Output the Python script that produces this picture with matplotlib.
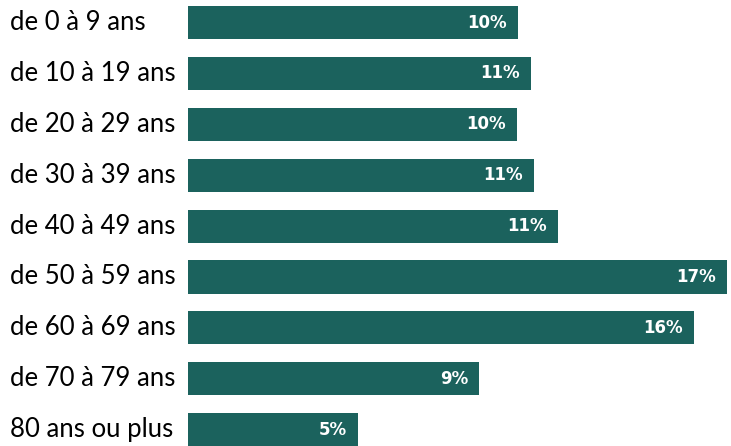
import numpy as np
import matplotlib.pyplot as plt
import matplotlib.transforms as mtransforms

categories = ['de 0 à 9 ans', 'de 10 à 19 ans', 'de 20 à 29 ans', 'de 30 à 39 ans',
              'de 40 à 49 ans', 'de 50 à 59 ans', 'de 60 à 69 ans', 'de 70 à 79 ans',
              '80 ans ou plus']
values = [10.19, 10.59, 10.15, 10.68, 11.42, 16.64, 15.62, 8.98, 5.25]
labels = ['10%', '11%', '10%', '11%', '11%', '17%', '16%', '9%', '5%']

color = '#1b625d'

fig = plt.figure(figsize=(7.31, 4.46), dpi=100)
ax = fig.add_axes([188/731, 0, 543/731, 1])

y = np.arange(len(categories))
ax.barh(y, values, height=0.65, color=color)

ax.set_xlim(0, 543/32.4)
ax.set_ylim((446 - 22.5)/50.9, -22.5/50.9)
ax.axis('off')

trans = mtransforms.blended_transform_factory(fig.transFigure, ax.transData)
for i, cat in enumerate(categories):
    ax.text(10/731, i, cat, transform=trans, ha='left', va='center',
            fontsize=18.5, family='Lato', color='black')

for i, (v, lab) in enumerate(zip(values, labels)):
    ax.text(v - 11/32.4, i, lab, ha='right', va='center', fontsize=12,
            fontweight='bold', color='white', family='DejaVu Sans')

fig.savefig('out.png', dpi=100)
